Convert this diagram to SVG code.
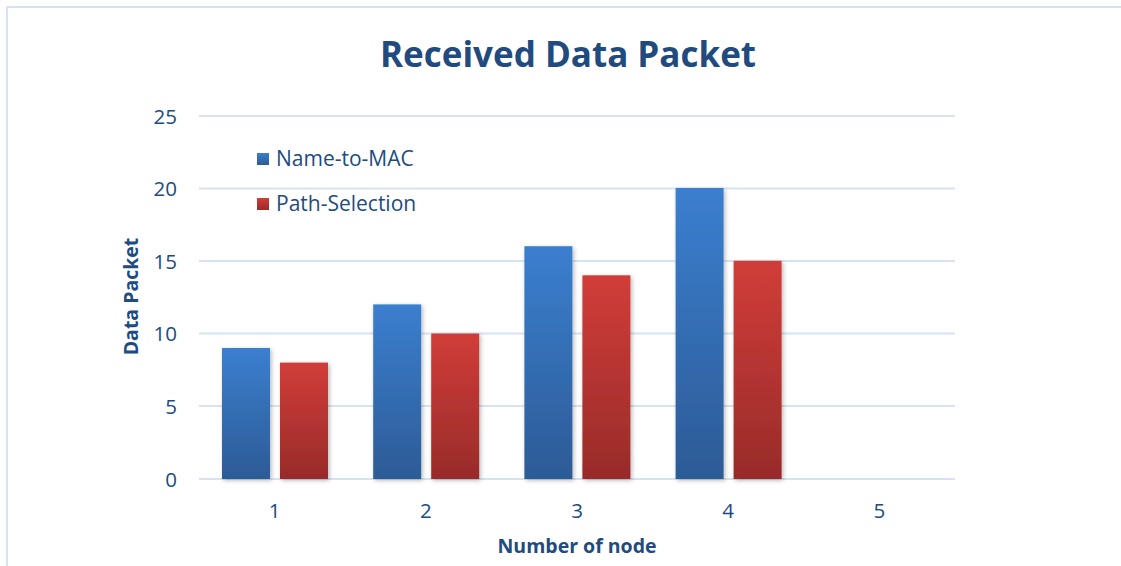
<svg xmlns="http://www.w3.org/2000/svg" width="1121" height="566" viewBox="0 0 1121 566">
  <style>
    .txt { font-family: "Open Sans", "Liberation Sans", sans-serif; fill: #214B7F; }
    .title { font-size: 35px; font-weight: bold; }
    .axis-title { font-size: 19.5px; font-weight: bold; }
    .tick { font-size: 20.5px; }
    .legend { font-size: 21px; }
    .grid { stroke: #D7E3F3; stroke-width: 2; }
    .frame { fill: none; stroke: #D7E3F3; stroke-width: 2; }
  </style>
  <defs>
    <linearGradient id="gBlue" x1="0" y1="0" x2="0" y2="1">
      <stop offset="0" stop-color="#3B7FCF"/>
      <stop offset="1" stop-color="#2C5B96"/>
    </linearGradient>
    <linearGradient id="gRed" x1="0" y1="0" x2="0" y2="1">
      <stop offset="0" stop-color="#D13D39"/>
      <stop offset="1" stop-color="#982B29"/>
    </linearGradient>
    <filter id="shadow" x="-30%" y="-10%" width="160%" height="120%">
      <feDropShadow dx="1.5" dy="1.5" stdDeviation="2" flood-color="#000" flood-opacity="0.28"/>
    </filter>
  </defs>

  <rect width="1121" height="566" fill="#FFFFFF"/>
  <!-- chart frame (clipped by the canvas on right and bottom) -->
  <rect class="frame" x="7" y="7" width="1130" height="580"/>

  <!-- title -->
  <text class="txt title" x="568" y="67" text-anchor="middle">Received Data Packet</text>

  <!-- gridlines -->
  <g id="gridlines">
    <line class="grid" x1="199" y1="116" x2="955" y2="116"/>
    <line class="grid" x1="199" y1="188.5" x2="955" y2="188.5"/>
    <line class="grid" x1="199" y1="261" x2="955" y2="261"/>
    <line class="grid" x1="199" y1="333.5" x2="955" y2="333.5"/>
    <line class="grid" x1="199" y1="406" x2="955" y2="406"/>
    <line class="grid" x1="199" y1="479" x2="955" y2="479"/>
  </g>

  <!-- value axis labels -->
  <g id="y-axis" class="txt tick" text-anchor="end">
    <text x="177" y="123.5">25</text>
    <text x="177" y="196">20</text>
    <text x="177" y="268.5">15</text>
    <text x="177" y="341">10</text>
    <text x="177" y="413.5">5</text>
    <text x="177" y="486.5">0</text>
  </g>

  <!-- category axis labels -->
  <g id="x-axis" class="txt tick" text-anchor="middle">
    <text x="274.6" y="517.5">1</text>
    <text x="425.8" y="517.5">2</text>
    <text x="577" y="517.5">3</text>
    <text x="728.2" y="517.5">4</text>
    <text x="879.4" y="517.5">5</text>
  </g>

  <!-- axis titles -->
  <text class="txt axis-title" x="577" y="553" text-anchor="middle">Number of node</text>
  <text class="txt axis-title" transform="translate(137.5 296.5) rotate(-90)" text-anchor="middle">Data Packet</text>

  <!-- series: Name-to-MAC -->
  <g id="series-name-to-mac" fill="url(#gBlue)" filter="url(#shadow)">
    <rect x="222" y="348" width="48" height="131"/>
    <rect x="373.2" y="304.4" width="48" height="174.6"/>
    <rect x="524.4" y="246.2" width="48" height="232.8"/>
    <rect x="675.6" y="188" width="48" height="291"/>
  </g>

  <!-- series: Path-Selection -->
  <g id="series-path-selection" fill="url(#gRed)" filter="url(#shadow)">
    <rect x="280" y="362.6" width="48" height="116.4"/>
    <rect x="431.2" y="333.5" width="48" height="145.5"/>
    <rect x="582.4" y="275.3" width="48" height="203.7"/>
    <rect x="733.6" y="260.8" width="48" height="218.2"/>
  </g>

  <!-- legend -->
  <g id="legend">
    <rect x="257" y="153" width="12" height="12" fill="url(#gBlue)"/>
    <text class="txt legend" x="276" y="166">Name-to-MAC</text>
    <rect x="257" y="198" width="12" height="12" fill="url(#gRed)"/>
    <text class="txt legend" x="276" y="210.5">Path-Selection</text>
  </g>
</svg>
